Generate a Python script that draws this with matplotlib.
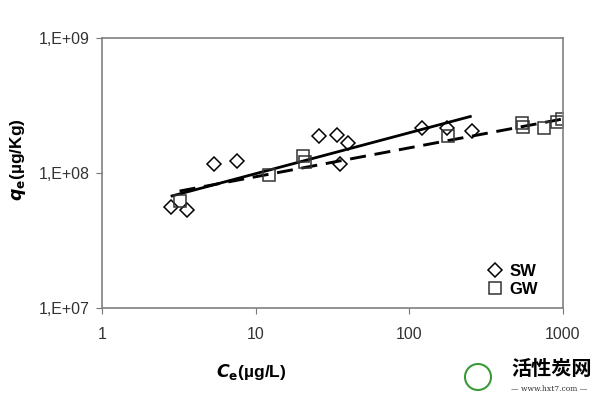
import numpy as np
import matplotlib
matplotlib.use("Agg")
import matplotlib.pyplot as plt
from matplotlib.patches import Circle
from matplotlib.transforms import IdentityTransform

plt.rcParams['font.family'] = ['Liberation Sans', 'DejaVu Sans']

# SW data (diamonds)
sw_ce = [2.8, 3.6, 5.4, 7.6, 25.8, 33.8, 39.8, 35.3, 122, 176, 255]
sw_qe = [5.6e7, 5.3e7, 1.17e8, 1.23e8, 1.88e8, 1.91e8, 1.67e8, 1.17e8, 2.15e8, 2.15e8, 2.05e8]

# GW data (squares)
gw_ce = [3.2, 12.2, 20.3, 20.9, 178, 545, 552, 751, 920, 985]
gw_qe = [6.2e7, 9.7e7, 1.34e8, 1.21e8, 1.88e8, 2.35e8, 2.19e8, 2.17e8, 2.37e8, 2.5e8]

# Freundlich fits: K, 1/n, Ce range
sw_fit = (4.92e7, 0.303, 2.8, 255)
gw_fit = (5.73e7, 0.214, 3.2, 1000)

y_ticks = [1e7, 1e8, 1e9]
y_labels = ['1,E+07', '1,E+08', '1,E+09']
x_ticks = [1, 10, 100, 1000]
x_labels = ['1', '10', '100', '1000']

fig = plt.figure(figsize=(6, 3.93), dpi=100)
ax = fig.add_axes([0.17, 0.2163, 0.768, 0.687])

def fit_line(p):
	K, m, lo, hi = p
	x = np.logspace(np.log10(lo), np.log10(hi), 50)
	return x, K * x ** m

x, y = fit_line(sw_fit)
ax.plot(x, y, color='black', lw=2.0, solid_capstyle='butt')
x, y = fit_line(gw_fit)
ax.plot(x, y, color='black', lw=2.1, ls=(0, (5.5, 3)))

ax.plot(sw_ce, sw_qe, 'D', ms=7, mfc='none', mec='black', mew=1.1, label='SW')
ax.plot(gw_ce, gw_qe, 's', ms=8.5, mfc='none', mec='#333333', mew=1.1, label='GW')

ax.set_xscale('log')
ax.set_yscale('log')
ax.set_xlim(1, 1000)
ax.set_ylim(1e7, 1e9)
ax.set_xticks(x_ticks)
ax.set_xticklabels(x_labels)
ax.set_yticks(y_ticks)
ax.set_yticklabels(y_labels)
ax.minorticks_off()
ax.tick_params(direction='out', length=4, width=0.8, color='#777777',
               labelsize=11.5, labelcolor='#333333')
ax.tick_params(axis='x', pad=10)
ax.tick_params(axis='y', pad=5)
for s in ax.spines.values():
	s.set_color('#808080')
	s.set_linewidth(1.2)

ax.set_xlabel(r'$\mathbfit{C}_{\mathbf{e}}$' + '(µg/L)', fontsize=12.5, fontweight='bold')
ax.set_ylabel(r'$\mathbfit{q}_{\mathbf{e}}$' + '(µg/Kg)', fontsize=12.5, fontweight='bold')
ax.xaxis.set_label_coords(0.325, -0.2)
ax.yaxis.set_label_coords(-0.16, 0.55)

leg = ax.legend(loc='lower right', bbox_to_anchor=(0.96, 0.015), frameon=False,
                prop={'weight': 'bold', 'size': 12},
                handletextpad=0.35, handlelength=1.0, borderaxespad=0, labelspacing=0.2)

# watermark
fig.add_artist(Circle((478, 16), 13, transform=IdentityTransform(),
                      fill=False, ec='#3a9a3a', lw=1.5))
fig.text(0.852, 0.062, '活性炭网', fontsize=14.5, fontweight='bold',
         family=['Noto Sans CJK SC', 'DejaVu Sans'], va='center', ha='left')
fig.text(0.915, 0.0, '— www.hxt7.com —', fontsize=5.5, family='DejaVu Serif',
         va='bottom', ha='center', color='#333333')

fig.savefig('out.png', dpi=100)
